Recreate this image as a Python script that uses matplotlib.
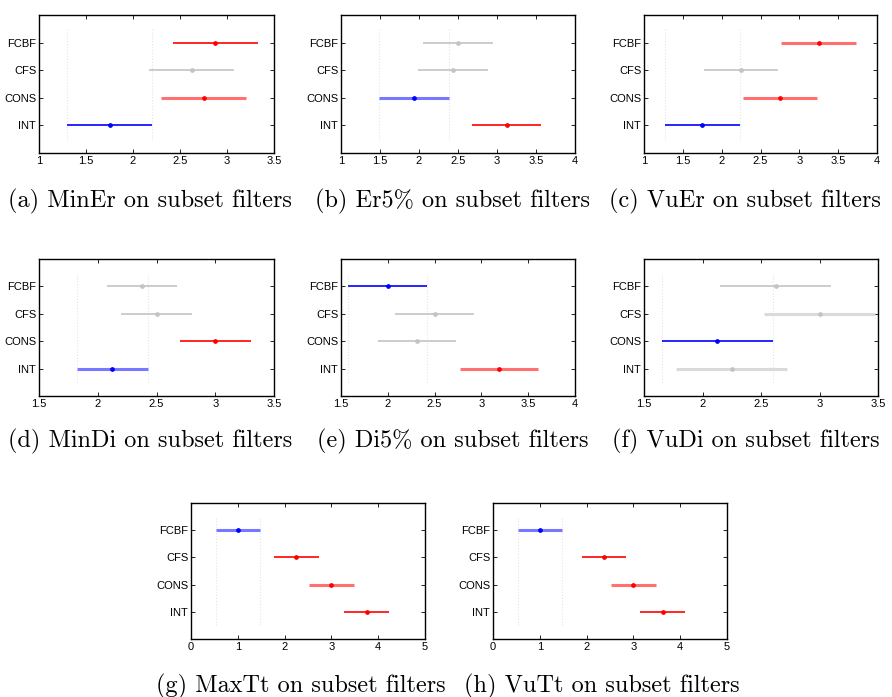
"""Nemenyi-style rank intervals for subset filters, eight panels."""

import matplotlib

matplotlib.use("Agg")
import matplotlib.pyplot as plt

# rows bottom to top
methods = ["INT", "CONS", "CFS", "FCBF"]

captions = [
    "(a) MinEr on subset filters",
    "(b) Er5% on subset filters",
    "(c) VuEr on subset filters",
    "(d) MinDi on subset filters",
    "(e) Di5% on subset filters",
    "(f) VuDi on subset filters",
    "(g) MaxTt on subset filters",
    "(h) VuTt on subset filters",
]

# mean ranks, in the order of `methods`
minEr_mean = [1.75, 2.75, 2.625, 2.875]
er5_mean = [3.125, 1.9375, 2.4375, 2.5]
vuEr_mean = [1.75, 2.75, 2.25, 3.25]
minDi_mean = [2.125, 3.0, 2.5, 2.375]
di5_mean = [3.1875, 2.3125, 2.5, 2.0]
vuDi_mean = [2.25, 2.125, 3.0, 2.625]
maxTt_mean = [3.75, 3.0, 2.25, 1.0]
vuTt_mean = [3.625, 3.0, 2.375, 1.0]

# interval half widths
half_widths = [0.45, 0.445, 0.48, 0.30, 0.42, 0.475, 0.475, 0.475]

# s = selected group, d = significantly different, n = not different
minEr_state = ["s", "d", "n", "d"]
er5_state = ["d", "s", "n", "n"]
vuEr_state = ["s", "d", "n", "d"]
minDi_state = ["s", "d", "n", "n"]
di5_state = ["d", "n", "n", "s"]
vuDi_state = ["n", "s", "n", "n"]
maxTt_state = ["d", "d", "d", "s"]
vuTt_state = ["d", "d", "d", "s"]

x_limits = [(1, 3.5), (1, 4), (1, 4), (1.5, 3.5), (1.5, 4), (1.5, 3.5), (0, 5), (0, 5)]
x_steps = [0.5, 0.5, 0.5, 0.5, 0.5, 0.5, 1, 1]

means = [minEr_mean, er5_mean, vuEr_mean, minDi_mean, di5_mean, vuDi_mean, maxTt_mean, vuTt_mean]
states = [minEr_state, er5_state, vuEr_state, minDi_state, di5_state, vuDi_state, maxTt_state, vuTt_state]

# rendering quirk in the original: some bars look wider and paler
soft = [{1}, {1}, {1, 3}, {0}, {0}, {2, 0}, {3, 1}, {3, 1}]

COLORS = {"s": "#0000ff", "d": "#ff0000", "n": "#c4c4c4"}
SOFT_COLORS = {"s": "#7777ff", "d": "#ff7070", "n": "#dadada"}

W, H = 892, 697
# axes boxes in pixels: left, top, right, bottom
boxes = [
    (39, 15, 274, 153), (341, 15, 575, 153), (644, 15, 877, 153),
    (39, 259, 274, 396), (341, 259, 575, 396), (644, 259, 878, 396),
    (191, 503, 425, 639), (493, 503, 727, 639),
]
caption_pos = [(150, 201), (453, 201), (745, 201), (150, 441), (453, 441), (746, 441), (301, 686), (602, 686)]

plt.rcParams["font.family"] = ["Liberation Sans", "DejaVu Sans"]
fig = plt.figure(figsize=(W / 100, H / 100), dpi=100)

for i in range(8):
    l, t, r, b = boxes[i]
    ax = fig.add_axes([l / W, 1 - b / H, (r - l) / W, (b - t) / H])
    hw = half_widths[i]
    sel = states[i].index("s")
    lo, hi = means[i][sel] - hw, means[i][sel] + hw
    ax.vlines([lo, hi], 0.5, 4.5, color="#e4e4e4", linestyle=":", linewidth=0.8, zorder=1)
    for k, (m, st) in enumerate(zip(means[i], states[i])):
        y = k + 1
        if k in soft[i]:
            c, lw = SOFT_COLORS[st], 2.2
        else:
            c, lw = COLORS[st], 1.2
        ax.plot([m - hw, m + hw], [y, y], color=c, linewidth=lw, solid_capstyle="butt", zorder=2)
        ax.plot([m], [y], marker="o", markersize=2.4, color=COLORS[st], zorder=3)
    x0, x1 = x_limits[i]
    ax.set_xlim(x0, x1)
    ax.set_ylim(0, 5)
    step = x_steps[i]
    n = int(round((x1 - x0) / step))
    ticks = [x0 + j * step for j in range(n + 1)]
    ax.set_xticks(ticks, [f"{v:g}" for v in ticks])
    ax.set_yticks([1, 2, 3, 4], methods)
    ax.tick_params(direction="in", length=3, width=0.6, labelsize=8, pad=2,
                   top=True, right=True, colors="black")
    for sp in ax.spines.values():
        sp.set_linewidth(1.0)
    cx, cy = caption_pos[i]
    fig.text(cx / W, 1 - cy / H, captions[i], ha="center", va="center",
             family="cmr10", fontsize=17.5)

fig.savefig("out.png", dpi=100)
